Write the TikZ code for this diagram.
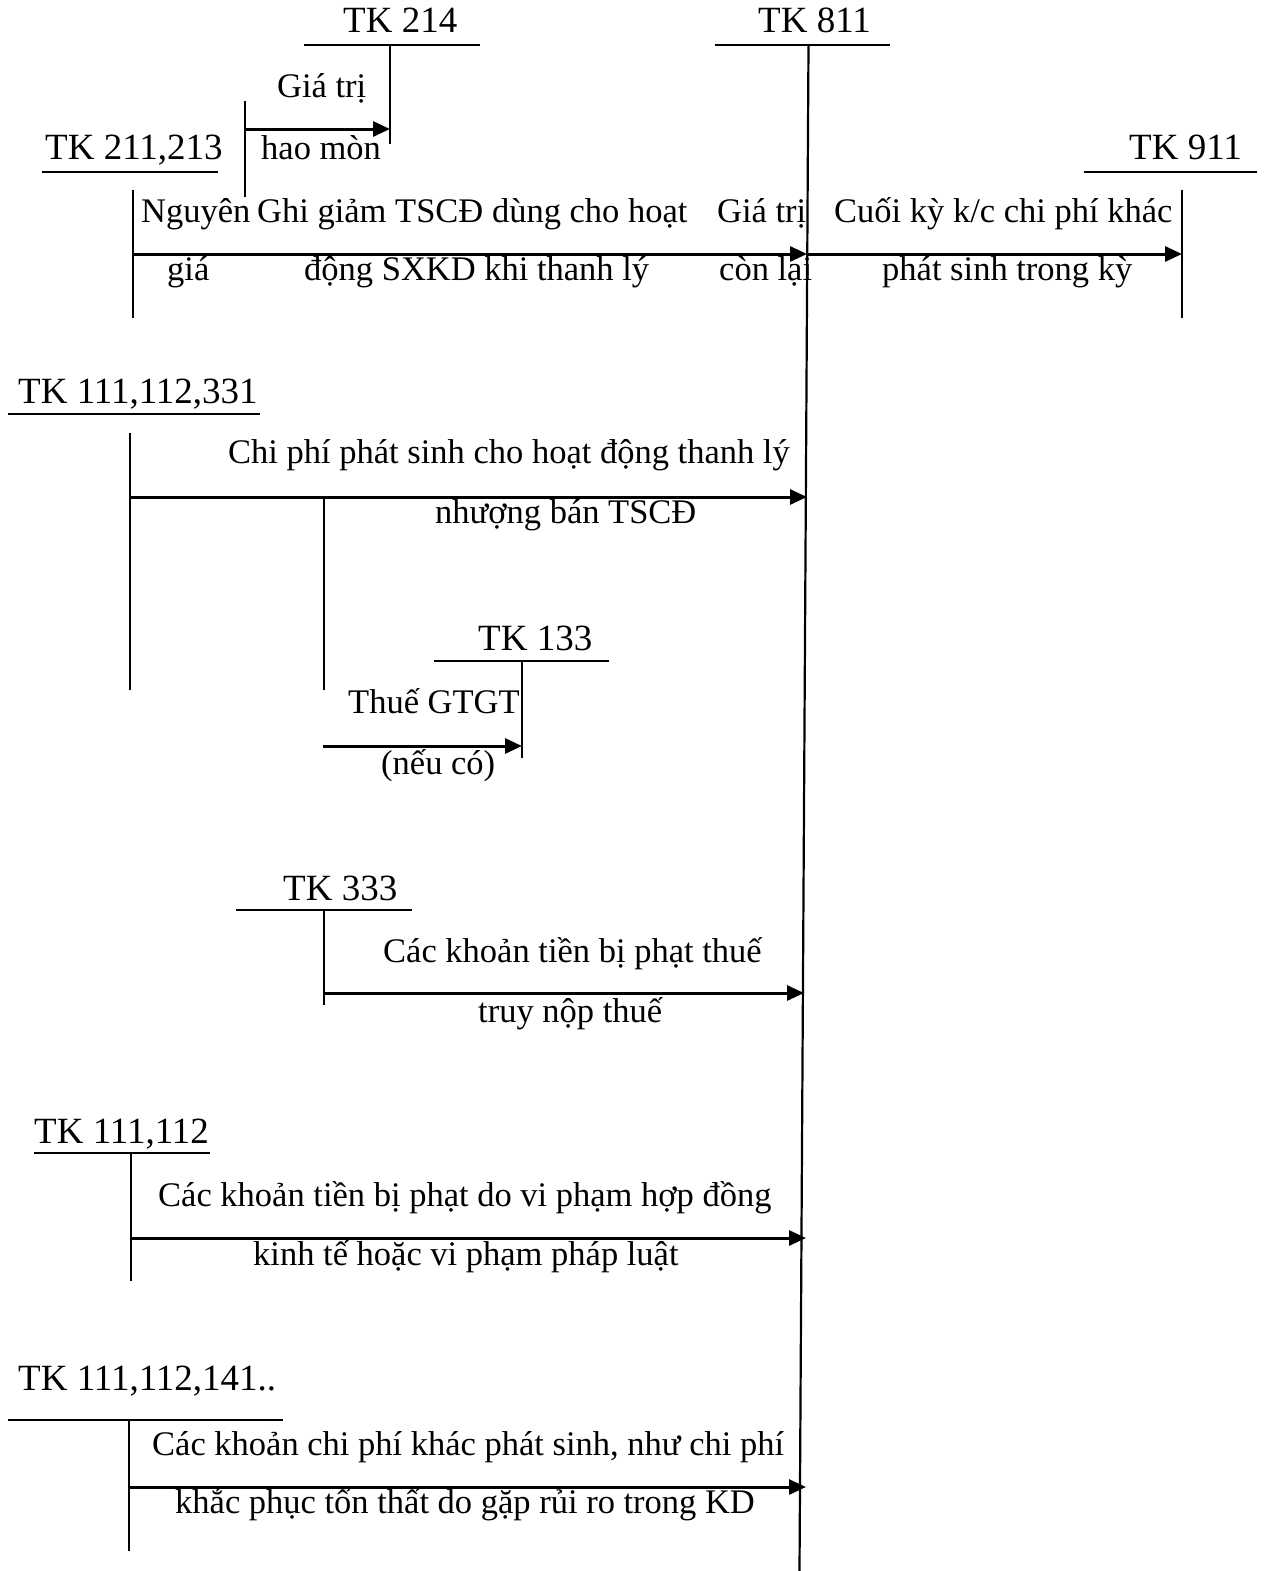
\documentclass[tikz,border=0pt]{standalone}
\usepackage{fontspec}
\setmainfont{Liberation Serif}
\usetikzlibrary{arrows.meta}

\tikzset{
  lbl/.style={inner sep=0pt, anchor=base west, font=\fontsize{34.5}{40}\selectfont},
  head/.style={inner sep=0pt, anchor=base west, font=\fontsize{37}{42}\selectfont},
  acct/.style={line width=2.6pt},
  tline/.style={line width=2.2pt},
  flow/.style={line width=3pt, -{Triangle[length=17pt,width=15pt]}},
}

\begin{document}
\begin{tikzpicture}[x=1pt,y=-1pt]
\useasboundingbox (0,0) rectangle (1267,1571);

% ---------- account headings ----------
\node[head] (n214)  at (343,33)   {TK 214};
\node[head] (n211)  at (45,159)   {TK 211,213};
\node[head] (n811)  at (758,33)   {TK 811};
\node[head] (n911)  at (1129,159) {TK 911};
\node[head] (n111a) at (18,403)   {TK 111,112,331};
\node[head] (n133)  at (478,650)  {TK 133};
\node[head] (n333)  at (283,900)  {TK 333};
\node[head] (n111b) at (34,1143)  {TK 111,112};
\node[head] (n111c) at (18,1390)  {TK 111,112,141..};

% ---------- T-account bars and stems ----------
\coordinate (u214a) at (304,45);   \coordinate (u214b) at (480,45);
\coordinate (s214t) at (390,45);   \coordinate (s214b) at (390,144);
\draw[acct] (u214a) -- (u214b);
\draw[tline] (s214t) -- (s214b);

\coordinate (u211a) at (42,172);   \coordinate (u211b) at (218,172);
\coordinate (s211t) at (133,190);  \coordinate (s211b) at (133,318);
\draw[acct] (u211a) -- (u211b);
\draw[tline] (s211t) -- (s211b);

\coordinate (u811a) at (715,45);   \coordinate (u811b) at (890,45);
\coordinate (s811t) at (808.5,45); \coordinate (s811b) at (799.5,1571);
\draw[acct] (u811a) -- (u811b);
\draw[tline] (s811t) -- (s811b);

\coordinate (u911a) at (1084,172); \coordinate (u911b) at (1257,172);
\coordinate (s911t) at (1182,190); \coordinate (s911b) at (1182,318);
\draw[acct] (u911a) -- (u911b);
\draw[tline] (s911t) -- (s911b);

\coordinate (u111aa) at (8,414);   \coordinate (u111ab) at (260,414);
\coordinate (s111at) at (130,433); \coordinate (s111ab) at (130,690);
\draw[acct] (u111aa) -- (u111ab);
\draw[tline] (s111at) -- (s111ab);

\coordinate (u133a) at (434,661);  \coordinate (u133b) at (609,661);
\coordinate (s133t) at (522,661);  \coordinate (s133b) at (522,758);
\draw[acct] (u133a) -- (u133b);
\draw[tline] (s133t) -- (s133b);

\coordinate (u333a) at (236,910);  \coordinate (u333b) at (412,910);
\coordinate (s333t) at (324,910);  \coordinate (s333b) at (324,1005);
\draw[acct] (u333a) -- (u333b);
\draw[tline] (s333t) -- (s333b);

\coordinate (u111ba) at (34,1153); \coordinate (u111bb) at (210,1153);
\coordinate (s111bt) at (131,1153);\coordinate (s111bb) at (131,1281);
\draw[acct] (u111ba) -- (u111bb);
\draw[tline] (s111bt) -- (s111bb);

\coordinate (u111ca) at (8,1420);  \coordinate (u111cb) at (283,1420);
\coordinate (s111ct) at (129,1420);\coordinate (s111cb) at (129,1551);
\draw[acct] (u111ca) -- (u111cb);
\draw[tline] (s111ct) -- (s111cb);

% ---------- entries ----------
% depreciation 211 -> 214
\coordinate (d1s) at (245,101); \coordinate (d1b) at (245,197);
\coordinate (d1a) at (245,129); \coordinate (d1e) at (390,129);
\draw[tline] (d1s) -- (d1b);
\draw[flow] (d1a) -- (d1e);
\node[lbl] (tDepA) at (277,97)  {Giá trị};
\node[lbl] (tDepB) at (261,159) {hao mòn};

% residual value 211 -> 811
\coordinate (r1a) at (133,254); \coordinate (r1e) at (807,254);
\draw[flow] (r1a) -- (r1e);
\node[lbl] (tNgA) at (141,222) {Nguyên};
\node[lbl] (tNgB) at (167,280) {giá};
\node[lbl] (tGgA) at (257,222) {Ghi giảm TSCĐ dùng cho hoạt};
\node[lbl] (tGgB) at (304,280) {động SXKD khi thanh lý};
\node[lbl] (tCrA) at (717,222) {Giá trị};
\node[lbl] (tCrB) at (719,280) {còn lại};

% closing 811 -> 911
\coordinate (c1a) at (807,254); \coordinate (c1e) at (1182,254);
\draw[flow] (c1a) -- (c1e);
\node[lbl] (tCkA) at (834,222) {Cuối kỳ k/c chi phí khác};
\node[lbl] (tCkB) at (882,280) {phát sinh trong kỳ};

% disposal costs 111,112,331 -> 811
\coordinate (p1a) at (130,497); \coordinate (p1e) at (807,497);
\draw[flow] (p1a) -- (p1e);
\node[lbl] (tCpA) at (228,463) {Chi phí phát sinh cho hoạt động thanh lý};
\node[lbl] (tCpB) at (435,523) {nhượng bán TSCĐ};

% VAT branch -> 133
\coordinate (v1t) at (324,497); \coordinate (v1b) at (324,690);
\draw[tline] (v1t) -- (v1b);
\coordinate (v1a) at (323,746); \coordinate (v1e) at (522,746);
\draw[flow] (v1a) -- (v1e);
\node[lbl] (tVatA) at (348,713) {Thuế GTGT};
\node[lbl] (tVatB) at (381,774) {(nếu có)};

% tax penalties 333 -> 811
\coordinate (q1a) at (324,993); \coordinate (q1e) at (804,993);
\draw[flow] (q1a) -- (q1e);
\node[lbl] (tTxA) at (383,962)  {Các khoản tiền bị phạt thuế};
\node[lbl] (tTxB) at (478,1022) {truy nộp thuế};

% contract penalties 111,112 -> 811
\coordinate (k1a) at (131,1238); \coordinate (k1e) at (806,1238);
\draw[flow] (k1a) -- (k1e);
\node[lbl] (tHdA) at (158,1206) {Các khoản tiền bị phạt do vi phạm hợp đồng};
\node[lbl] (tHdB) at (253,1265) {kinh tế hoặc vi phạm pháp luật};

% other costs 111,112,141.. -> 811
\coordinate (o1a) at (129,1487); \coordinate (o1e) at (806,1487);
\draw[flow] (o1a) -- (o1e);
\node[lbl] (tOtA) at (152,1455) {Các khoản chi phí khác phát sinh, như chi phí};
\node[lbl] (tOtB) at (175,1513) {khắc phục tổn thất do gặp rủi ro trong KD};

\end{tikzpicture}
\end{document}
